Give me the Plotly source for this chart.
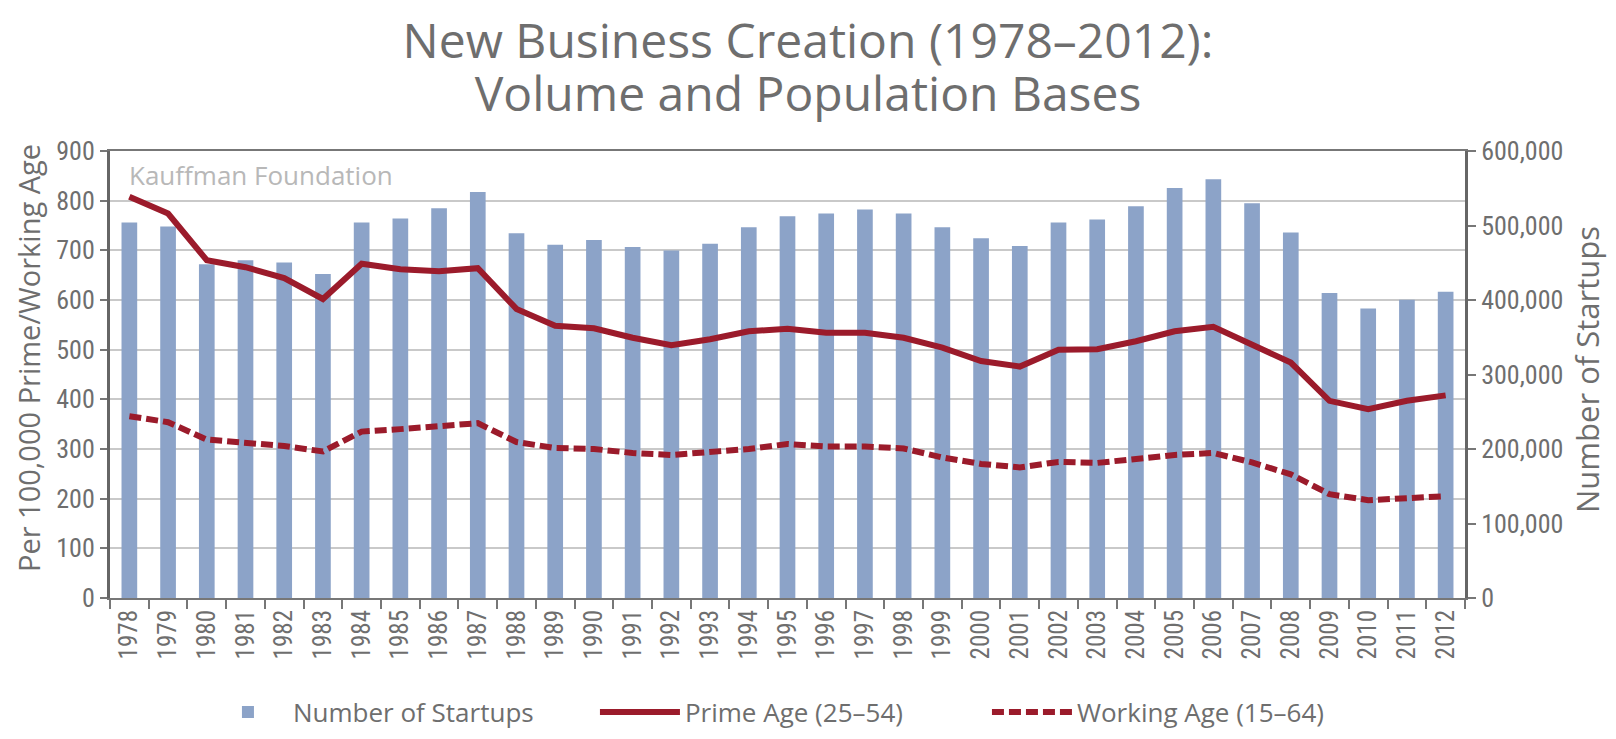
import plotly.graph_objects as go

years = [str(y) for y in range(1978, 2013)]

startups = [504000, 498500, 448000, 453500, 450500, 435000, 504000, 509500, 523000, 545000,
            489500, 474000, 480500, 471000, 466500, 475500, 497500, 512500, 516000, 521500,
            516000, 497500, 483000, 472500, 504000, 508000, 526000, 550500, 562000, 530000,
            490500, 409500, 388500, 400500, 411000]

prime_age = [808, 774, 680, 666, 644, 602, 673, 662, 658, 664,
             582, 548, 543, 524, 509, 521, 537, 542, 534, 534,
             524, 504, 477, 466, 500, 501, 517, 537, 546, 511,
             474, 397, 380, 397, 408]

working_age = [366, 354, 319, 314, 306, 295, 335, 340, 345, 352,
               314, 302, 300, 292, 288, 293, 300, 310, 305, 305,
               301, 283, 270, 263, 274, 272, 281, 288, 292, 273,
               249, 209, 197, 202, 205]

title_lines = ["New Business Creation (1978–2012):", "Volume and Population Bases"]

left_ticks = list(range(0, 901, 100))
right_ticks = list(range(0, 600001, 100000))
right_ticktext = ["0" if v == 0 else f"{v:,}" for v in right_ticks]

GRAY = "#6e6e6e"
RED = "#9b1b2b"
BLUE = "#8ca3c8"
NARROW = "Liberation Sans Narrow, Roboto Condensed, DejaVu Sans Condensed, Arial Narrow, sans-serif"
HUMAN = "Open Sans, Lato, sans-serif"

W, H = 1600, 723
ML, MR, MT, MB = 102, 143, 143, 133
PLOT_H = H - MT - MB
PLOT_W = W - ML - MR


def py(fig_y):
    """figure pixel row -> paper y"""
    return (H - MB - fig_y) / PLOT_H


def px(fig_x):
    return (fig_x - ML) / PLOT_W


title_text = "<br>".join(f"<span style='font-size:48px'>{t}</span>" for t in title_lines)

fig = go.Figure()
fig.add_trace(go.Bar(x=years, y=startups, name="Number of Startups", marker_color=BLUE,
                     marker_line_width=0, yaxis="y"))
fig.add_trace(go.Scatter(x=years, y=prime_age, name="Prime Age (25–54)", mode="lines",
                         line=dict(color=RED, width=6), yaxis="y2"))
fig.add_trace(go.Scatter(x=years, y=working_age, name="Working Age (15–64)", mode="lines",
                         line=dict(color=RED, width=6, dash="12px,5px"), yaxis="y2"))

fig.update_layout(
    width=W, height=H,
    paper_bgcolor="white", plot_bgcolor="white",
    margin=dict(l=ML, r=MR, t=MT, b=MB, autoexpand=False),
    bargap=0.595,
    showlegend=True,
    title=dict(text=title_text, x=0.5, xanchor="center", y=1 - 50 / H, yanchor="middle",
               font=dict(family=HUMAN, size=41, color=GRAY)),
    legend=dict(orientation="h", x=0.0686, xanchor="left", y=py(704), yanchor="middle",
                font=dict(family=HUMAN, size=26, color=GRAY),
                entrywidth=297, itemwidth=80, bgcolor="rgba(0,0,0,0)"),
    xaxis=dict(type="category", tickson="boundaries", ticks="outside", ticklen=9,
               tickcolor="#777", tickwidth=2, tickangle=-90,
               tickfont=dict(family=NARROW, size=25, color=GRAY),
               showline=True, linecolor="#777", linewidth=2, mirror=True,
               showgrid=False, range=[-0.5, 34.5]),
    yaxis=dict(side="right", range=[0, 600000], tickvals=right_ticks, ticktext=right_ticktext,
               ticks="outside", ticklen=8, tickcolor="#777", tickwidth=2,
               tickfont=dict(family=NARROW, size=26, color=GRAY),
               showline=True, linecolor="#666", linewidth=3, showgrid=False, zeroline=False),
    yaxis2=dict(side="left", overlaying="y", range=[0, 900], tickvals=left_ticks,
                ticks="outside", ticklen=7, tickcolor="#777", tickwidth=2,
                tickfont=dict(family=NARROW, size=26, color=GRAY),
                showline=True, linecolor="#666", linewidth=3,
                showgrid=True, gridcolor="#c9c9c9", gridwidth=1.5, zeroline=False),
    annotations=[
        dict(text="Kauffman Foundation", xref="paper", yref="paper", x=0.0125, y=0.946,
             xanchor="left", yanchor="middle", showarrow=False,
             font=dict(family=HUMAN, size=26, color="#b8b8b8")),
        dict(text="Per 100,000 Prime/Working Age", xref="paper", yref="paper",
             x=px(20), y=py(350), xanchor="center", yanchor="middle",
             textangle=-90, showarrow=False,
             font=dict(family=HUMAN, size=29, color=GRAY)),
        dict(text="Number of Startups", xref="paper", yref="paper",
             x=px(1579), y=py(361), xanchor="center", yanchor="middle",
             textangle=-90, showarrow=False,
             font=dict(family=HUMAN, size=31, color=GRAY)),
    ],
)

fig.write_html("out.html")
